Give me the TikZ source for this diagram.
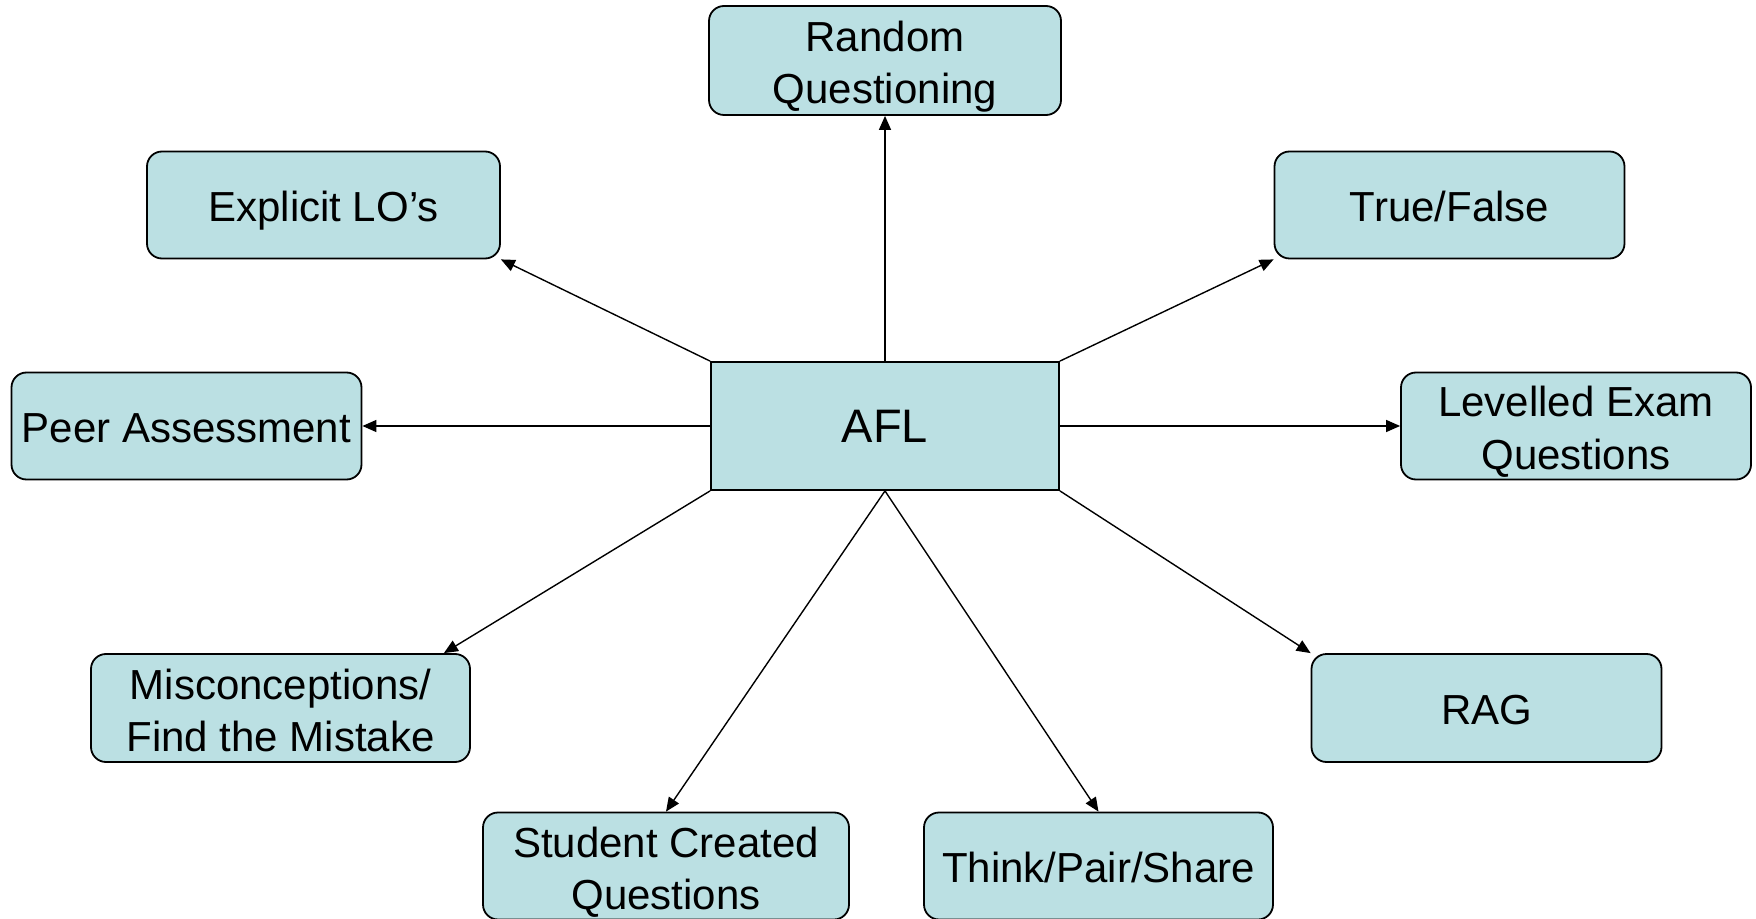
\documentclass[tikz,border=0pt]{standalone}
\usepackage{fontspec}
\setmainfont{Liberation Sans}
\usetikzlibrary{arrows.meta,calc}
\definecolor{boxfill}{HTML}{BBE0E3}
\newcommand{\pptstrut}{\rule[-4.2pt]{0pt}{25pt}}
\begin{document}
\begin{tikzpicture}[x=0.5pt,y=-0.5pt,
  leaf/.style={draw=black, line width=0.9pt, fill=boxfill, rounded corners=7.5pt,
    minimum width=175pt, minimum height=53.5pt, inner sep=0pt, align=center,
    font=\fontsize{21pt}{26pt}\selectfont,
    execute at begin node=\pptstrut},
  twoline/.style={text height=47.2pt, text depth=4.2pt},
  hub/.style={draw=black, line width=0.9pt, fill=boxfill,
    minimum width=174pt, minimum height=64pt, inner sep=0pt,
    font=\fontsize{23.5pt}{27pt}\selectfont,
    execute at begin node=\rule[-5pt]{0pt}{26.3pt}},
  link/.style={draw=black, line width=0.7pt, -{Triangle[length=7pt,width=6pt]}}]
\useasboundingbox (0,0) rectangle (1756,919);
\node[hub] (afl) at (885,426) {AFL};
\node[leaf, twoline, minimum width=176pt, minimum height=54.5pt] (rq) at (885,60.5) {Random\\Questioning};
\node[leaf, minimum width=176.5pt] (el) at (323.5,205) {Explicit LO’s};
\node[leaf] (tf) at (1449.5,205) {True/False};
\node[leaf] (pa) at (186.5,426) {Peer Assessment};
\node[leaf, twoline] (le) at (1576,426) {Levelled Exam\\Questions};
\node[leaf, twoline, minimum width=189.5pt, minimum height=54pt] (mc) at (280.5,708) {Misconceptions/\\Find the Mistake};
\node[leaf, minimum height=54pt] (rag) at (1486.5,708) {RAG};
\node[leaf, twoline, minimum width=183pt] (sc) at (666,866) {Student Created\\Questions};
\node[leaf, minimum width=174.5pt] (tp) at (1098.5,866) {Think/Pair/Share};
\coordinate (mctip) at ($(mc.north east)+(-27,0)$);
\draw[link] (afl.north) -- (rq.south);
\draw[link] (afl.north west) -- (el.south east);
\draw[link] (afl.north east) -- (tf.south west);
\draw[link] (afl.west) -- (pa.east);
\draw[link] (afl.east) -- (le.west);
\draw[link] (afl.south west) -- (mctip);
\draw[link] (afl.south east) -- (rag.north west);
\draw[link] (afl.south) -- (sc.north);
\draw[link] (afl.south) -- (tp.north);
\end{tikzpicture}
\end{document}
